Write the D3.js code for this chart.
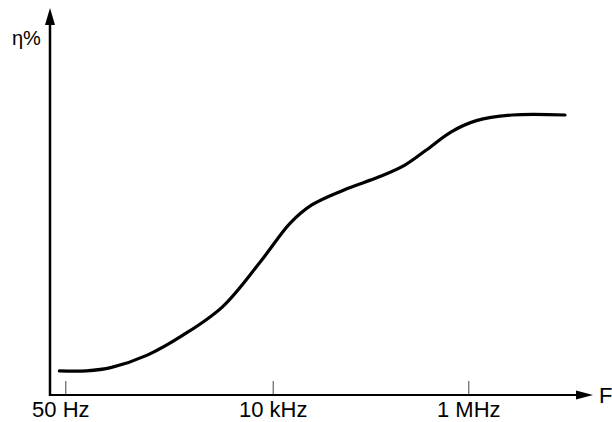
<!DOCTYPE html>
<html>
<head>
<meta charset="utf-8">
<script src="https://cdn.jsdelivr.net/npm/d3@7"></script>
<style>
  body { margin: 0; background: #fff; }
  text { font-family: "Liberation Sans", Arial, sans-serif; fill: #000; }
</style>
</head>
<body>
<script>
// frequency (Hz) vs efficiency (%)
var freq = [43, 86, 163, 406, 1010, 2770, 7570, 15100, 25100, 53600, 124500, 224500, 372000, 670000, 1210000, 2800000, 9750000];
var eta  = [6.9, 6.9, 7.9, 11.4, 17.1, 25.2, 38.6, 49.1, 54.3, 58.6, 62.4, 65.7, 70, 75.2, 78.4, 80, 80];
var tickFreqs  = [50, 1e4, 1e6];
var tickLabels = ["50 Hz", "10 kHz", "1 MHz"];

var width = 612, height = 422;
var x0 = 50, y0 = 395;

var svg = d3.select("body").append("svg")
    .attr("width", width)
    .attr("height", height);

// the drawing is schematic, decades are not equally spaced
var x = d3.scaleLog()
    .domain(tickFreqs)
    .range([65.3, 272.7, 468.3]);

var y = d3.scaleLinear()
    .domain([0, 100])
    .range([y0, 45]);

var xAxis = d3.axisBottom(x)
    .tickValues(tickFreqs)
    .tickFormat(function(d, i) { return tickLabels[i]; })
    .tickSizeInner(-14)
    .tickSizeOuter(0)
    .tickPadding(6);

var gx = svg.append("g")
    .attr("transform", "translate(0," + y0 + ")")
    .call(xAxis);
gx.select(".domain").remove();
gx.selectAll(".tick line").attr("stroke", "#444").attr("stroke-width", 1);
gx.selectAll(".tick text")
    .style("font-size", "22px")
    .attr("fill", "#000");
gx.selectAll(".tick text").filter(function(d) { return d === 50; })
    .attr("dx", "-5");

// axes with arrow heads
svg.append("line")
    .attr("x1", x0).attr("y1", y0 + 1)
    .attr("x2", x0).attr("y2", 20)
    .attr("stroke", "#000").attr("stroke-width", 2.5);
svg.append("path")
    .attr("d", "M" + x0 + ",8 L" + (x0 - 5) + ",25 L" + (x0 + 5) + ",25 Z")
    .attr("fill", "#000");

svg.append("line")
    .attr("x1", x0 - 1).attr("y1", y0)
    .attr("x2", 580).attr("y2", y0)
    .attr("stroke", "#000").attr("stroke-width", 2.2);
svg.append("path")
    .attr("d", "M593," + y0 + " L576," + (y0 - 4.5) + " L576," + (y0 + 4.5) + " Z")
    .attr("fill", "#000");

svg.append("text")
    .attr("x", 599).attr("y", 403)
    .style("font-size", "22px")
    .text("F");

svg.append("text")
    .attr("x", 12).attr("y", 45)
    .style("font-size", "20px")
    .text("η%");

var line = d3.line()
    .x(function(d, i) { return x(freq[i]); })
    .y(function(d, i) { return y(eta[i]); })
    .curve(d3.curveCatmullRom.alpha(0.5));

svg.append("path")
    .datum(freq)
    .attr("d", line)
    .attr("fill", "none")
    .attr("stroke", "#000")
    .attr("stroke-width", 3.2)
    .attr("stroke-linecap", "round");
</script>
</body>
</html>
